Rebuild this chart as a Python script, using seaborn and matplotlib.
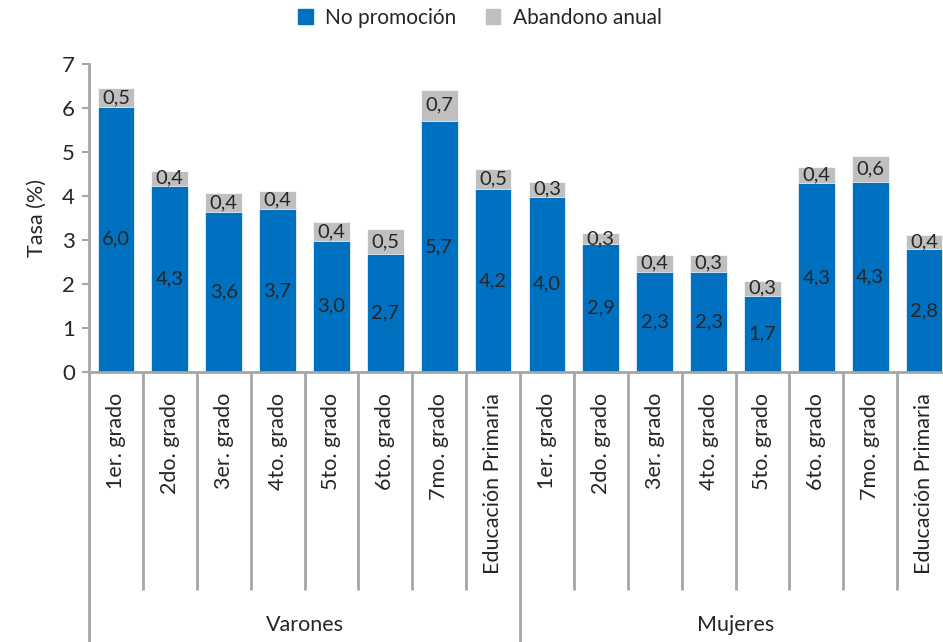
import matplotlib
matplotlib.use("Agg")
import matplotlib.pyplot as plt
import matplotlib.transforms as mtransforms
from matplotlib.patches import Patch
import seaborn as sns
import pandas as pd

# ---- data ----
grades = ["1er. grado", "2do. grado", "3er. grado", "4to. grado", "5to. grado",
          "6to. grado", "7mo. grado", "Educación Primaria"]
groups = ["Varones", "Mujeres"]
no_promocion = [6.02, 4.23, 3.62, 3.69, 2.98, 2.68, 5.70, 4.15,
                3.98, 2.90, 2.28, 2.28, 1.73, 4.28, 4.32, 2.78]
abandono = [0.42, 0.34, 0.45, 0.42, 0.42, 0.56, 0.70, 0.46,
            0.34, 0.25, 0.38, 0.38, 0.34, 0.37, 0.59, 0.33]
label_no_promocion = ["6,0", "4,3", "3,6", "3,7", "3,0", "2,7", "5,7", "4,2",
                      "4,0", "2,9", "2,3", "2,3", "1,7", "4,3", "4,3", "2,8"]
label_abandono = ["0,5", "0,4", "0,4", "0,4", "0,4", "0,5", "0,7", "0,5",
                  "0,3", "0,3", "0,4", "0,3", "0,3", "0,4", "0,6", "0,4"]

BLUE = "#0070C0"
GRAY = "#BFBFBF"
LINE = "#A6A6A6"
TXT = "#262626"

sns.set_style("white")
plt.rcParams["font.family"] = ["Lato", "DejaVu Sans"]
plt.rcParams["font.weight"] = "normal"
plt.rcParams["axes.labelweight"] = "normal"

keys = [f"{g}|{c}" for g in groups for c in grades]
df = pd.DataFrame({"key": keys,
                   "blue": no_promocion,
                   "total": [a + b for a, b in zip(no_promocion, abandono)]})

W, H = 943, 642
fig = plt.figure(figsize=(W / 100, H / 100), dpi=100)
x0, x1, ytop, ybot = 89, 951, 63.5, 372
ax = fig.add_axes([x0 / W, 1 - ybot / H, (x1 - x0) / W, (ybot - ytop) / H])

sns.barplot(data=df, x="key", y="total", color=GRAY, width=0.68, ax=ax,
            saturation=1, edgecolor="white", linewidth=0.5)
sns.barplot(data=df, x="key", y="blue", color=BLUE, width=0.68, ax=ax,
            saturation=1, edgecolor="white", linewidth=0.5)

n = len(keys)
ax.set_xlim(-0.5, n - 0.5)
ax.set_ylim(0, 7)
ax.set_yticks(range(0, 8))
ax.tick_params(axis="y", length=5, width=1.5, color=LINE, pad=5,
               labelsize=16, labelcolor=TXT, left=True)
ax.set_ylabel("Tasa (%)", fontsize=15.5, color=TXT, labelpad=11)

ax.set_xticks(range(n))
ax.set_xticklabels([k.split("|")[1] for k in keys], rotation=90,
                   fontsize=15.5, color=TXT)
ax.tick_params(axis="x", length=0, pad=15)
ax.set_xlabel("")

for s in ["top", "right"]:
    ax.spines[s].set_visible(False)
for s in ["left", "bottom"]:
    ax.spines[s].set_color(LINE)
    ax.spines[s].set_linewidth(2)

# data labels
for i in range(n):
    ax.text(i, no_promocion[i] / 2, label_no_promocion[i], ha="center",
            va="center", fontsize=14.5, color=TXT)
    ax.text(i, no_promocion[i] + abandono[i] / 2, label_abandono[i],
            ha="center", va="center", fontsize=14.5, color=TXT)

# multi-level category separators
trans = mtransforms.blended_transform_factory(ax.transData, ax.transAxes)
axh = ybot - ytop
inner_bottom = -(590 - ybot) / axh
outer_bottom = -(H + 5 - ybot) / axh
per = len(grades)
for i in range(n + 1):
    xb = i - 0.5
    yb = outer_bottom if i % per == 0 else inner_bottom
    ax.plot([xb, xb], [0, yb], transform=trans, color=LINE,
            lw=2, clip_on=False, solid_capstyle="butt")
for gi, g in enumerate(groups):
    xc = gi * per + (per - 1) / 2
    ax.text(xc, -(625 - ybot) / axh, g, transform=trans, ha="center",
            va="center", fontsize=15.5, color=TXT)

handles = [Patch(color=BLUE, label="No promoción"),
           Patch(color=GRAY, label="Abandono anual")]
fig.legend(handles=handles, loc="center", bbox_to_anchor=(480 / W, 1 - 18 / H),
           ncol=2, frameon=False, fontsize=15, handlelength=0.7,
           handleheight=0.7, columnspacing=1.4, handletextpad=0.6,
           labelcolor=TXT)

fig.savefig("out.png", dpi=100)
